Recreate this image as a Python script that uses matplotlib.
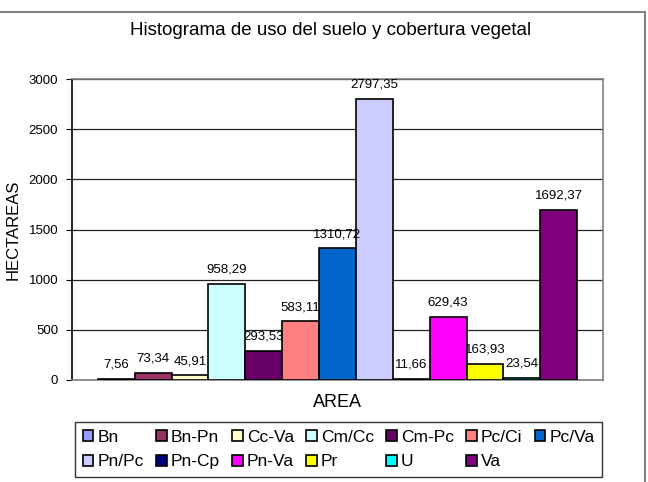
import matplotlib
matplotlib.use('Agg')
import matplotlib.pyplot as plt
import numpy as np
from matplotlib.patches import Rectangle

plt.rcParams['font.family'] = ['Liberation Sans', 'DejaVu Sans']

# datos
categorias = ['Bn', 'Bn-Pn', 'Cc-Va', 'Cm/Cc', 'Cm-Pc', 'Pc/Ci', 'Pc/Va',
              'Pn/Pc', 'Pn-Cp', 'Pn-Va', 'Pr', 'U', 'Va']
hectareas = [7.56, 73.34, 45.91, 958.29, 293.53, 583.11, 1310.72,
             2797.35, 11.66, 629.43, 163.93, 23.54, 1692.37]
colores = ['#9999FF', '#993366', '#FFFFCC', '#CCFFFF', '#660066', '#FF8080', '#0066CC',
           '#CCCCFF', '#000080', '#FF00FF', '#FFFF00', '#00FFFF', '#800080']

fig = plt.figure(figsize=(6.48, 4.82), dpi=100)
ax = fig.add_axes([72/648, 102/482, 531/648, 301/482])

x = np.arange(len(categorias))
barras = []
for i in range(len(categorias)):
    b = ax.bar(x[i], hectareas[i], width=1.0, color=colores[i], edgecolor='black',
               linewidth=1.2, label=categorias[i], zorder=3)
    barras.append(b)
    etiqueta = f'{hectareas[i]:.2f}'.replace('.', ',')
    ax.annotate(etiqueta, (x[i], hectareas[i]), xytext=(0, 6), textcoords='offset points',
                ha='center', va='bottom', fontsize=9.5, zorder=4)

ax.set_xlim(-1.2, 13.2)
ax.set_ylim(0, 3000)
ax.set_yticks(np.arange(0, 3001, 500))
ax.tick_params(axis='y', labelsize=9.5, length=4, direction='out', pad=6)
ax.set_xticks([])
ax.grid(axis='y', color='#222222', linewidth=0.9, zorder=0)

ax.spines['top'].set_color('#808080')
ax.spines['right'].set_color('#808080')
ax.spines['bottom'].set_color('#808080')
ax.spines['left'].set_color('black')
for s in ax.spines.values():
    s.set_linewidth(1.2)

ax.set_ylabel('HECTAREAS', fontsize=12, labelpad=6)
ax.set_xlabel('AREA', fontsize=13, labelpad=10)
fig.text(0.51, 0.937, 'Histograma de uso del suelo y cobertura vegetal', ha='center', va='center', fontsize=13.5)

# borde exterior
fig.patches.append(Rectangle((-0.01, -0.01), 645/648 + 0.01, (482-12)/482 + 0.01,
                             transform=fig.transFigure, fill=False, edgecolor='#808080', linewidth=1.5))

orden = [0, 7, 1, 8, 2, 9, 3, 10, 4, 11, 5, 12, 6]
handles = [barras[i] for i in orden]
labels = [categorias[i] for i in orden]
leg = fig.legend(handles, labels, ncol=7, loc='upper left',
                 bbox_to_anchor=(75/648, 1 - 422/482), fontsize=12.5,
                 handlelength=0.6, handleheight=0.6, handletextpad=0.25,
                 columnspacing=0.7, labelspacing=0.55, borderpad=0.45,
                 borderaxespad=0, frameon=True, fancybox=False, edgecolor='black')
leg.get_frame().set_linewidth(1.0)

fig.savefig('out.png', dpi=100)
